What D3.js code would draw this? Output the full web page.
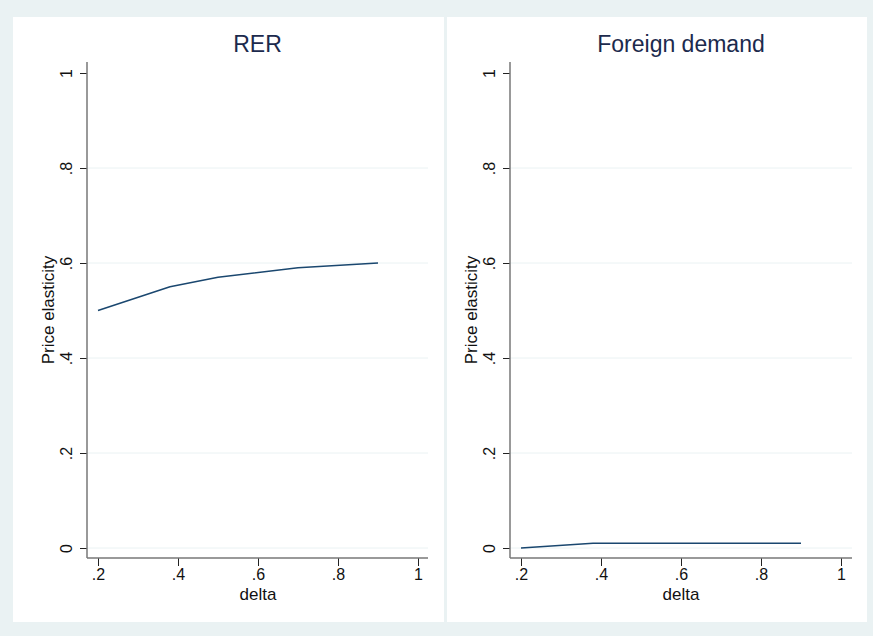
<!DOCTYPE html>
<html>
<head>
<meta charset="utf-8">
<script src="https://cdn.jsdelivr.net/npm/d3@7"></script>
<style>
  html, body { margin: 0; padding: 0; background: #eaf2f3; }
  svg { display: block; font-family: "Liberation Sans", Arial, Helvetica, sans-serif; }
</style>
</head>
<body>
<svg id="chart" width="873" height="636"></svg>
<script>
// delta grid shared by both panels
const delta = [0.2, 0.38, 0.5, 0.7, 0.9];
// price elasticity by delta
const rerElasticity = [0.50, 0.55, 0.57, 0.59, 0.60];
const foreignElasticity = [0.00, 0.01, 0.01, 0.01, 0.01];

const panelTitles = ["RER", "Foreign demand"];
const xTicks = [0.2, 0.4, 0.6, 0.8, 1];
const yTicks = [0, 0.2, 0.4, 0.6, 0.8, 1];
const xLabel = "delta";
const yLabel = "Price elasticity";

const W = 873, H = 636;
const svg = d3.select("#chart");
const bg = "#eaf2f3";
const lineColor = "#1a476f";
const textColor = "#1c2a4d";

svg.append("rect").attr("width", W).attr("height", H).attr("fill", bg);

const fmt = v => (v === 0 ? "0" : v === 1 ? "1" : String(v).replace(/^0/, ""));

const panels = [
  { title: panelTitles[0], values: rerElasticity, box: [13, 17, 444, 622], plot: [87, 428] },
  { title: panelTitles[1], values: foreignElasticity, box: [447, 17, 867, 622], plot: [510, 852] }
];

panels.forEach(p => {
  const [bx0, by0, bx1, by1] = p.box;
  svg.append("rect")
    .attr("x", bx0).attr("y", by0)
    .attr("width", bx1 - bx0).attr("height", by1 - by0)
    .attr("fill", "#ffffff");

  const axisX = p.plot[0], axisRight = p.plot[1];
  const axisBottom = 558, axisTop = 62;
  const x = d3.scaleLinear().domain([0.2, 1]).range([axisX + 11, axisX + 331]);
  const y = d3.scaleLinear().domain([0, 1]).range([548, 73]);

  const g = svg.append("g");

  // horizontal grid
  g.selectAll("line.grid")
    .data(yTicks.filter(t => t < 1))
    .join("line")
    .attr("class", "grid")
    .attr("x1", axisX).attr("x2", axisRight)
    .attr("y1", d => y(d)).attr("y2", d => y(d))
    .attr("stroke", bg).attr("stroke-width", 1);

  // series line
  const line = d3.line().x(d => x(d[0])).y(d => y(d[1]));
  g.append("path")
    .datum(delta.map((d, i) => [d, p.values[i]]))
    .attr("d", line)
    .attr("fill", "none")
    .attr("stroke", lineColor)
    .attr("stroke-width", 1.5)
    .attr("stroke-linejoin", "round");

  // y axis
  const yAxis = d3.axisLeft(y).tickValues(yTicks).tickSize(7).tickPadding(6).tickFormat(fmt);
  const ya = g.append("g").attr("transform", `translate(${axisX},0)`).call(yAxis);
  ya.select(".domain").remove();
  ya.append("line").attr("x1", 0).attr("x2", 0).attr("y1", axisTop).attr("y2", axisBottom)
    .attr("stroke", "#777777").attr("stroke-width", 1.5);
  ya.selectAll(".tick line").attr("stroke", "#222").attr("stroke-width", 1);
  ya.selectAll(".tick text")
    .attr("font-size", 16).attr("fill", "#111")
    .attr("text-anchor", "middle")
    .attr("x", null).attr("dy", null)
    .attr("transform", "translate(-21,0) rotate(-90)")
    .attr("dominant-baseline", "central");

  // x axis
  const xAxis = d3.axisBottom(x).tickValues(xTicks).tickSize(8).tickPadding(3).tickFormat(fmt);
  const xa = g.append("g").attr("transform", `translate(0,${axisBottom})`).call(xAxis);
  xa.select(".domain").remove();
  xa.append("line").attr("x1", axisX).attr("x2", axisRight).attr("y1", 0).attr("y2", 0)
    .attr("stroke", "#777777").attr("stroke-width", 1.5);
  xa.selectAll(".tick line").attr("stroke", "#222").attr("stroke-width", 1);
  xa.selectAll(".tick text").attr("font-size", 16).attr("fill", "#111");

  // axis titles
  g.append("text")
    .attr("x", (x(0.2) + x(1)) / 2).attr("y", 600)
    .attr("text-anchor", "middle").attr("font-size", 17).attr("fill", "#111")
    .text(xLabel);
  g.append("text")
    .attr("transform", `translate(${axisX - 39},${(axisTop + axisBottom) / 2}) rotate(-90)`)
    .attr("text-anchor", "middle").attr("dominant-baseline", "central")
    .attr("font-size", 17).attr("fill", "#111")
    .text(yLabel);

  // panel title, centred over the plot region
  svg.append("text")
    .attr("x", (axisX + axisRight) / 2).attr("y", 52)
    .attr("text-anchor", "middle").attr("font-size", 23).attr("fill", textColor)
    .text(p.title);
});
</script>
</body>
</html>
